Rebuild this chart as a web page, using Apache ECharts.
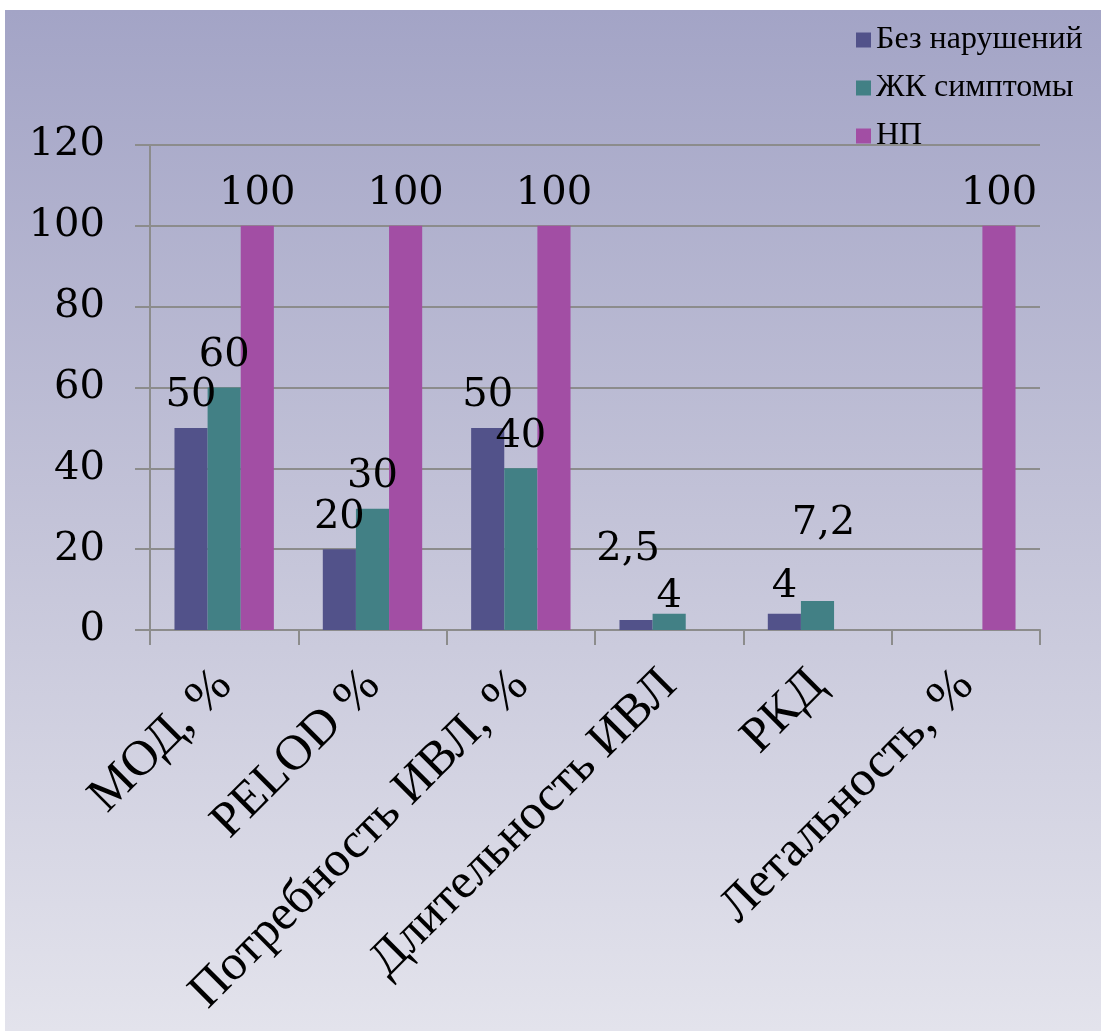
<!DOCTYPE html>
<html>
<head>
<meta charset="utf-8">
<script src="https://cdn.jsdelivr.net/npm/echarts@6/dist/echarts.min.js"></script>
<style>
html, body { margin: 0; padding: 0; background: #fff; }
#bg {
  position: absolute; left: 5px; top: 10px; width: 1096px; height: 1021px;
  background: linear-gradient(to bottom, #a3a4c6 0%, #c3c3d8 50%, #e3e3ec 100%);
}
#chart { position: absolute; left: 0; top: 0; width: 1101px; height: 1031px; }
</style>
</head>
<body>
<div id="bg"></div>
<div id="chart"></div>
<script>
var categories = ['МОД, %', 'PELOD %', 'Потребность ИВЛ, %', 'Длительность ИВЛ', 'РКД', 'Летальность, %'];
var seriesNames = ['Без нарушений', 'ЖК симптомы', 'НП'];
var noDisorders = [50, 20, 50, 2.5, 4, null];
var gkSymptoms = [60, 30, 40, 4, 7.2, null];
var npValues = [100, 100, 100, null, null, 100];
var yTicks = [0, 20, 40, 60, 80, 100, 120];

var colors = ['#52528a', '#428085', '#a24ea4'];
var gridGray = '#8c8c8c';

// сдвиги подписей, как их раскидал Excel
var labelShift = {
  '0-3': [-8, -38],
  '1-3': [0, 15],
  '0-4': [0, 5],
  '1-4': [6, -45]
};

function makeData(values, s) {
  return values.map(function (v, i) {
    var sh = labelShift[s + '-' + i];
    if (sh) return { value: v, label: { offset: sh } };
    return v;
  });
}

var chart = echarts.init(document.getElementById('chart'));

var labelStyle = {
  show: true,
  position: 'top',
  distance: 12,
  color: '#000',
  fontFamily: 'DejaVu Serif',
  fontSize: 40,
  formatter: function (p) { return String(p.value).replace('.', ','); }
};

var option = {
  animation: false,
  backgroundColor: 'transparent',
  color: colors,
  grid: { left: 150, right: 61, top: 145, bottom: 401 },
  legend: {
    orient: 'vertical',
    left: 851,
    top: 19,
    itemWidth: 15,
    itemHeight: 15,
    itemGap: 16,
    icon: 'rect',
    textStyle: { fontFamily: 'Liberation Serif', fontSize: 32, color: '#000' },
    data: seriesNames
  },
  xAxis: {
    type: 'category',
    data: categories,
    axisLine: { lineStyle: { color: gridGray, width: 2 } },
    axisTick: { show: true, length: 15, lineStyle: { color: gridGray, width: 2 } },
    axisLabel: {
      interval: 0,
      rotate: 45,
      margin: 48,
      color: '#000',
      fontFamily: 'Liberation Serif',
      fontSize: 50
    }
  },
  yAxis: {
    type: 'value',
    min: yTicks[0],
    max: yTicks[yTicks.length - 1],
    interval: 20,
    axisLine: { show: true, lineStyle: { color: gridGray, width: 2 } },
    axisTick: { show: true, length: 15, lineStyle: { color: gridGray, width: 2 } },
    splitLine: { lineStyle: { color: gridGray, width: 2 } },
    axisLabel: {
      margin: 45,
      color: '#000',
      fontFamily: 'DejaVu Serif',
      fontSize: 40
    }
  },
  series: [
    {
      name: seriesNames[0], type: 'bar', barGap: '0%', barCategoryGap: '33%',
      data: makeData(noDisorders, 0), label: labelStyle
    },
    {
      name: seriesNames[1], type: 'bar', barGap: '0%', barCategoryGap: '33%',
      data: makeData(gkSymptoms, 1), label: labelStyle
    },
    {
      name: seriesNames[2], type: 'bar', barGap: '0%', barCategoryGap: '33%',
      data: makeData(npValues, 2), label: labelStyle
    }
  ]
};
chart.setOption(option);
</script>
</body>
</html>
